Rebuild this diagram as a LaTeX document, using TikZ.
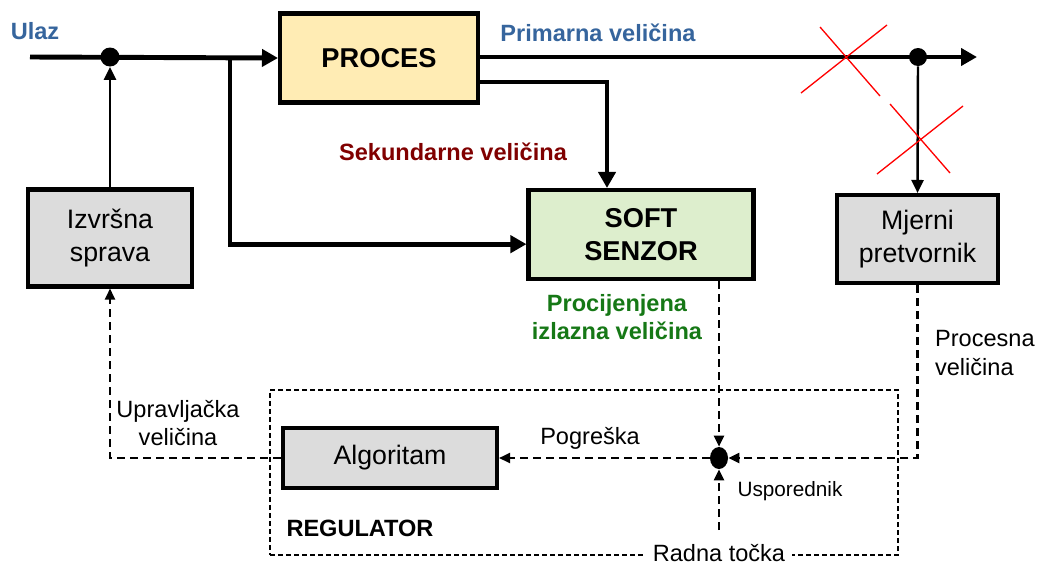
\documentclass[tikz,border=0pt]{standalone}
\usepackage{fontspec}
\setmainfont{Liberation Sans}
\usetikzlibrary{arrows.meta,shapes.geometric}
\definecolor{sig_blue}{RGB}{54,101,157}
\definecolor{sig_red}{RGB}{128,0,0}
\definecolor{sig_green}{RGB}{22,120,22}
\definecolor{blk_yellow}{RGB}{255,236,180}
\definecolor{blk_green}{RGB}{221,238,205}
\definecolor{blk_gray}{RGB}{220,220,220}
\tikzstyle{blk}=[rectangle,draw=black,line width=2.3pt,align=center,
  inner sep=2pt,font=\fontsize{15.2}{18.5}\selectfont]
\tikzstyle{graybox}=[blk,fill=blk_gray]
\tikzstyle{dotnode}=[circle,fill=black,inner sep=0pt,minimum size=3.8mm]
\tikzstyle{mainline}=[line width=2.8pt,-{Triangle[length=3.2mm,width=3.4mm]}]
\tikzstyle{thinline}=[line width=1.4pt,-{Triangle[length=2.6mm,width=2.4mm]}]
\tikzstyle{dashline}=[line width=1.2pt,dash pattern=on 1.6mm off 1mm,
  -{Triangle[length=2.2mm,width=2mm]}]
\tikzstyle{crossout}=[red,line width=0.75pt]
\tikzstyle{lbl}=[align=center,inner sep=1pt,font=\fontsize{13.4}{16.4}\selectfont]
\tikzstyle{lblbold}=[lbl,font=\fontsize{13.4}{16.4}\selectfont\bfseries]

\begin{document}
\begin{tikzpicture}[x=0.2mm,y=-0.2mm]
    \useasboundingbox (0,0) rectangle (1038,565);
    % blocks
    \node [blk,fill=blk_yellow,minimum width=39.6mm,minimum height=17.8mm,
      font=\fontsize{15.5}{18.5}\selectfont\bfseries] (proces) at (379,58) {PROCES};
    \node [blk,fill=blk_green,minimum width=45mm,minimum height=17.8mm,
      font=\fontsize{15.5}{18.5}\selectfont\bfseries] (soft) at (641,234.5) {SOFT\\SENZOR};
    \node [graybox,minimum width=32.8mm,minimum height=19.4mm] (izvrsna) at (110,238) {Izvršna\\sprava};
    \node [graybox,minimum width=32.2mm,minimum height=17.6mm] (mjerni) at (917.5,239) {Mjerni\\pretvornik};
    \node [graybox,minimum width=42.8mm,minimum height=12mm] (algoritam) at (390,458) {Algoritam};
    % regulator frame
    \node [draw,line width=0.6pt,dash pattern=on 1mm off 0.6mm,
      minimum width=125.6mm,minimum height=33mm] (regulator) at (584,472.5) {};
    % junctions
    \node [dotnode] (dotIn) at (110,57) {};
    \node [dotnode,minimum size=3.6mm] (dotOut) at (918,57) {};
    \node [ellipse,fill=black,inner sep=0pt,minimum width=3.6mm,minimum height=4.4mm] (dotCmp) at (719,458) {};
    \coordinate (ulazStart) at (30,57);
    \coordinate (branch) at (230,57);
    \coordinate (izlaz) at (977,57);
    \coordinate (radna) at (719,530);
    % process signals
    \draw [mainline] (ulazStart) to (proces.west);
    \draw [mainline] (proces.east |- izlaz) to (izlaz);
    \draw [mainline] (branch) |- ([yshift=-5.5pt]soft.west);
    \draw [mainline] ([yshift=4.5mm]proces.south east) -| ([xshift=-6.8mm]soft.north);
    \draw [thinline] (izvrsna.north) to (dotIn.south);
    \draw [thinline] (dotOut.south) to (mjerni.north);
    % broken links
    \draw [crossout] (820,27) -- (880,96);
    \draw [crossout] (887,25) -- (801,93);
    \draw [crossout] (890,104) -- (950,173);
    \draw [crossout] (963,106) -- (877,174);
    % control loop
    \draw [dashline] (soft.south -| dotCmp) to (dotCmp.north);
    \draw [dashline] (mjerni.south) |- (dotCmp.east);
    \draw [dashline] (radna) to (dotCmp.south);
    \draw [dashline] (dotCmp.west) to (algoritam.east);
    \draw [dashline] (algoritam.west) -| (izvrsna.south);
    % labels
    \node [lblbold,text=sig_blue] (ulaz) at (35,31) {Ulaz};
    \node [lblbold,text=sig_blue] (primarna) at (598,33) {Primarna veličina};
    \node [lblbold,text=sig_red] (sekundarne) at (453,152) {Sekundarne veličina};
    \node [lblbold,text=sig_green] (procijenjena) at (617,317) {Procijenjena\\izlazna veličina};
    \node [lbl,align=left,anchor=west] (procesna) at (933,353) {Procesna\\veličina};
    \node [lbl] (upravljacka) at (178,423) {Upravljačka\\veličina};
    \node [lbl] (pogreska) at (590,438) {Pogreška};
    \node [lbl,font=\fontsize{11.8}{14}\selectfont] (usporednik) at (790,491) {Usporednik};
    \node [lblbold] (regLbl) at (360,528) {REGULATOR};
    \node [lbl,fill=white,inner xsep=4pt,inner ysep=0.8pt] (radnaLbl) at (719,553) {Radna točka};
\end{tikzpicture}
\end{document}
